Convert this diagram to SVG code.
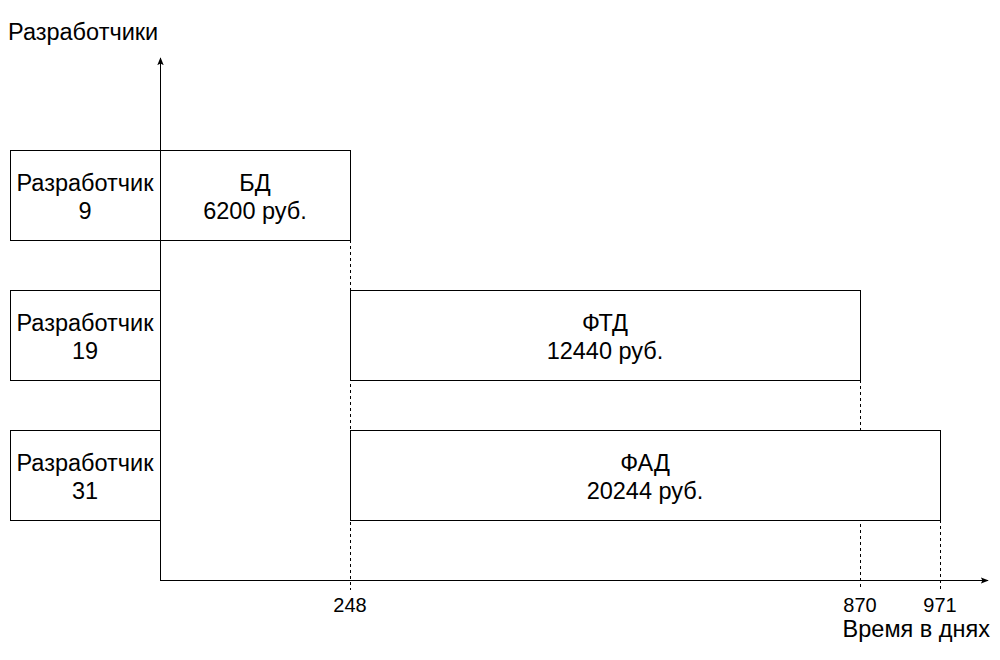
<svg xmlns="http://www.w3.org/2000/svg" width="1000" height="660" viewBox="0 0 1000 660">
<defs>
<style>
.box{fill:#fff;stroke:#000;stroke-width:1}
.t{font-family:"Liberation Sans",Arial,sans-serif;font-size:23.5px;fill:#000;text-anchor:middle}
.tick{font-family:"Liberation Sans",Arial,sans-serif;font-size:20px;fill:#000;text-anchor:middle}
.lbl{font-family:"Liberation Sans",Arial,sans-serif;font-size:23.5px;fill:#000}
.axis{stroke:#000;stroke-width:1;fill:none}
.dash{stroke:#000;stroke-width:1;stroke-dasharray:3 3;fill:none}
</style>
<marker id="arr" viewBox="0 0 10 10" refX="9" refY="5" markerWidth="8" markerHeight="8" markerUnits="userSpaceOnUse" orient="auto">
<path d="M0,1 L10,5 L0,9 L2,5 Z" fill="#000"/>
</marker>
</defs>
<rect width="1000" height="660" fill="#fff"/>
<g id="connectors">
<line class="dash" x1="350.5" y1="240" x2="350.5" y2="590"/>
<line class="dash" x1="860.5" y1="380" x2="860.5" y2="590"/>
<line class="dash" x1="940.5" y1="520" x2="940.5" y2="590"/>
<line class="axis" x1="160.5" y1="580" x2="160.5" y2="58" marker-end="url(#arr)"/>
<line class="axis" x1="160" y1="580.5" x2="988" y2="580.5" marker-end="url(#arr)"/>
</g>
<g id="label-y"><text class="lbl" x="8" y="40">Разработчики</text></g>
<g id="dev9"><rect class="box" x="10.5" y="150.5" width="150" height="90"/><text class="t" x="85" y="191">Разработчик</text><text class="t" x="85" y="219">9</text></g>
<g id="dev19"><rect class="box" x="10.5" y="290.5" width="150" height="90"/><text class="t" x="85" y="331">Разработчик</text><text class="t" x="85" y="359">19</text></g>
<g id="dev31"><rect class="box" x="10.5" y="430.5" width="150" height="90"/><text class="t" x="85" y="471">Разработчик</text><text class="t" x="85" y="499">31</text></g>
<g id="bd"><rect class="box" x="160.5" y="150.5" width="190" height="90"/><text class="t" x="255" y="191">БД</text><text class="t" x="255" y="219">6200 руб.</text></g>
<g id="ftd"><rect class="box" x="350.5" y="290.5" width="510" height="90"/><text class="t" x="605" y="331">ФТД</text><text class="t" x="605" y="359">12440 руб.</text></g>
<g id="fad"><rect class="box" x="350.5" y="430.5" width="590" height="90"/><text class="t" x="645" y="471">ФАД</text><text class="t" x="645" y="499">20244 руб.</text></g>
<g id="ticks">
<text class="tick" x="350" y="612">248</text>
<text class="tick" x="860" y="612">870</text>
<text class="tick" x="940" y="612">971</text>
</g>
<g id="label-x"><text class="lbl" x="990" y="637" text-anchor="end">Время в днях</text></g>
</svg>
